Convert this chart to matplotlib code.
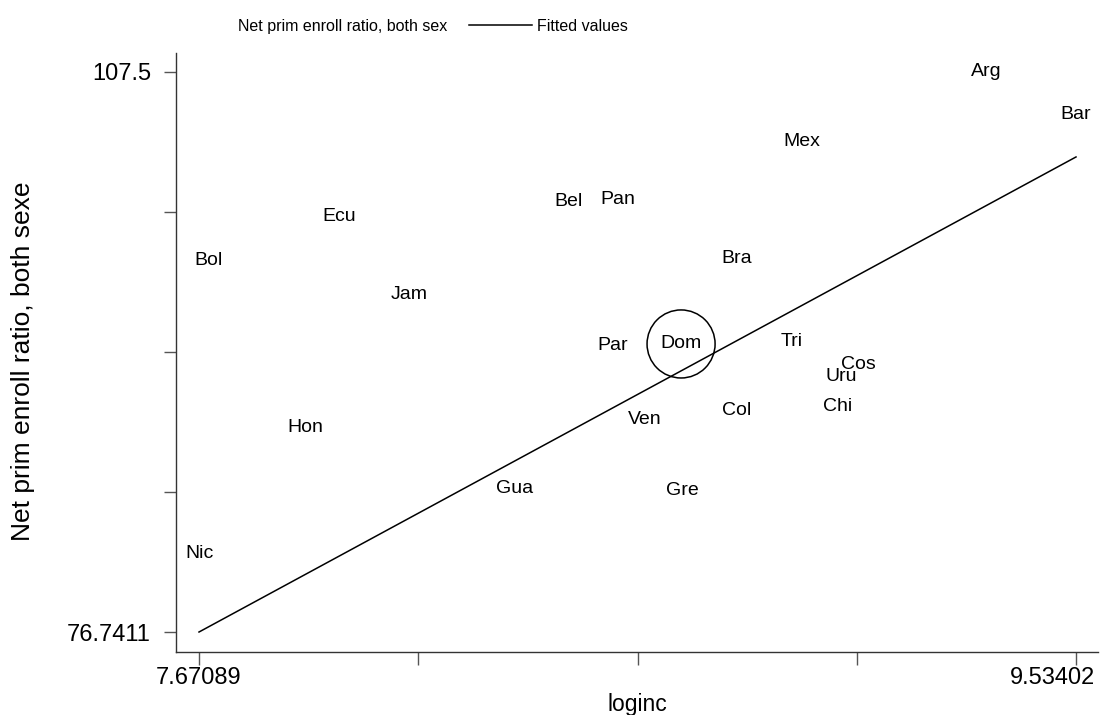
"""Scatter of net primary enrolment vs log income, with fitted line."""

import matplotlib
matplotlib.use("Agg")
import matplotlib.pyplot as plt
import matplotlib.transforms as mtransforms
from matplotlib.lines import Line2D

plt.rcParams["font.family"] = ["Liberation Sans", "DejaVu Sans"]

# values
countries = ["Arg", "Bar", "Mex", "Bel", "Pan", "Ecu", "Bol", "Bra", "Jam", "Par",
             "Dom", "Tri", "Cos", "Uru", "Chi", "Col", "Ven", "Hon", "Gua", "Gre",
             "Nic"]
loginc = [9.343, 9.534, 8.952, 8.455, 8.561, 7.968, 7.692, 8.814, 8.117, 8.550,
          8.695, 8.929, 9.071, 9.035, 9.028, 8.814, 8.618, 7.896, 8.342, 8.697,
          7.671]
enroll = [107.5, 105.14, 103.66, 100.36, 100.47, 99.54, 97.17, 97.28, 95.25, 92.45,
          92.56, 92.72, 91.41, 90.75, 89.15, 88.88, 88.39, 87.95, 84.60, 84.54,
          81.08]
highlight = "Dom"

fit_x = [7.67089, 9.53402]
fit_y = [76.7411, 102.83]

x_ticks = [7.67089, 8.13667, 8.60246, 9.06824, 9.53402]
x_ticklabels = ["7.67089", "", "", "", "9.53402"]
y_ticks = [76.7411, 84.4308, 92.1206, 99.8103, 107.5]
y_ticklabels = ["76.7411", "", "", "", "107.5"]


def main() -> None:
    fig = plt.figure(figsize=(11.02, 7.15), dpi=100)
    ax = fig.add_axes([0.1597, 0.0881, 0.8367, 0.8378])

    for name, x, y in zip(countries, loginc, enroll):
        ax.text(x, y, name, ha="center", va="center", fontsize=14, color="black")

    i = countries.index(highlight)
    ax.scatter([loginc[i]], [enroll[i]], s=2400, facecolors="none",
               edgecolors="black", linewidths=1.1, zorder=3)

    line, = ax.plot(fit_x, fit_y, color="black", linewidth=1.1)

    ax.set_xlim(7.6220, 9.5808)
    ax.set_ylim(75.643, 108.54)
    ax.set_xticks(x_ticks)
    ax.set_xticklabels(x_ticklabels)
    ax.set_yticks(y_ticks)
    ax.set_yticklabels(y_ticklabels)
    ax.tick_params(axis="both", direction="out", length=9, width=1,
                   color="#555555", labelsize=17)
    ax.tick_params(axis="x", pad=2)
    ax.tick_params(axis="y", pad=9)

    # last x label is pushed left so it stays inside the figure
    last = ax.get_xticklabels()[-1]
    shift = mtransforms.ScaledTranslation(-24 / 100, 0, fig.dpi_scale_trans)
    last.set_transform(last.get_transform() + shift)

    for side in ("top", "right"):
        ax.spines[side].set_visible(False)
    for side in ("left", "bottom"):
        ax.spines[side].set_color("#333333")
        ax.spines[side].set_linewidth(1)

    ax.set_xlabel("loginc", fontsize=16.5, va="top")
    ax.xaxis.set_label_coords(0.5, -0.068)
    ax.set_ylabel("Net prim enroll ratio, both sexe", fontsize=19)
    ax.yaxis.set_label_coords(-0.153, 0.486)

    handles = [Line2D([], [], linestyle="none"), line]
    labels = ["Net prim enroll ratio, both sex", "Fitted values"]
    fig.legend(handles, labels, loc="center", bbox_to_anchor=(0.362, 0.9636),
               ncol=2, frameon=False, fontsize=11.5, handlelength=3.95,
               handletextpad=0.3, columnspacing=1.4, borderpad=0.2)

    fig.savefig("out.png", dpi=100)


if __name__ == "__main__":
    main()
